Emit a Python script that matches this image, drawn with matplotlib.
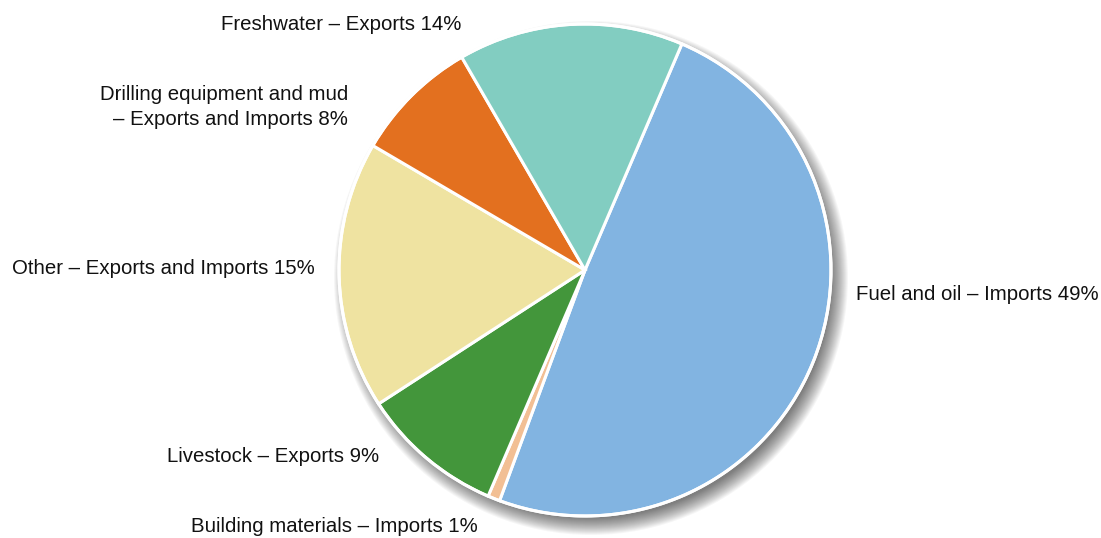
import matplotlib.pyplot as plt
from matplotlib.patches import Circle

plt.rcParams['font.family'] = ['Liberation Sans', 'DejaVu Sans']

labels = ['Fuel and oil – Imports 49%', 'Building materials – Imports 1%',
          'Livestock – Exports 9%', 'Other – Exports and Imports 15%',
          'Drilling equipment and mud\n– Exports and Imports 8%',
          'Freshwater – Exports 14%']
shares = [49.2, 0.8, 9.4, 17.6, 8.2, 14.8]
colors = ['#82B4E1', '#F2BF94', '#43963B', '#EFE3A1', '#E3701F', '#82CDC1']

# label anchor points in pixels (x, y from top), alignment
label_pos = [(856, 294, 'left'), (478, 527, 'right'), (379, 457, 'right'),
             (315, 269, 'right'), (348, 107, 'right'), (461, 24, 'right')]

W, H = 1101, 538
cx, cy, r = 585, H - 270, 246

fig = plt.figure(figsize=(W / 100, H / 100), dpi=100)
ax = fig.add_axes([0, 0, 1, 1])

# soft shadow
for i in range(18):
    ax.add_patch(Circle((cx + 6, cy - 8), r + 11 - i, color='black', alpha=0.035, lw=0, zorder=0))

ax.pie(shares, colors=colors, startangle=66.8, counterclock=False, center=(cx, cy), radius=r,
       wedgeprops=dict(edgecolor='white', linewidth=2.2))
ax.add_patch(Circle((cx, cy), r, fill=False, ec='white', lw=2.2, zorder=5))

for lab, (x, y, ha) in zip(labels, label_pos):
    ax.text(x, H - y, lab, ha=ha, va='center', fontsize=14.7, color='#111111',
            multialignment='right', linespacing=1.4)

ax.set_aspect('auto')
ax.set_xlim(0, W)
ax.set_ylim(0, H)
ax.axis('off')

fig.savefig('out.png', dpi=100)
